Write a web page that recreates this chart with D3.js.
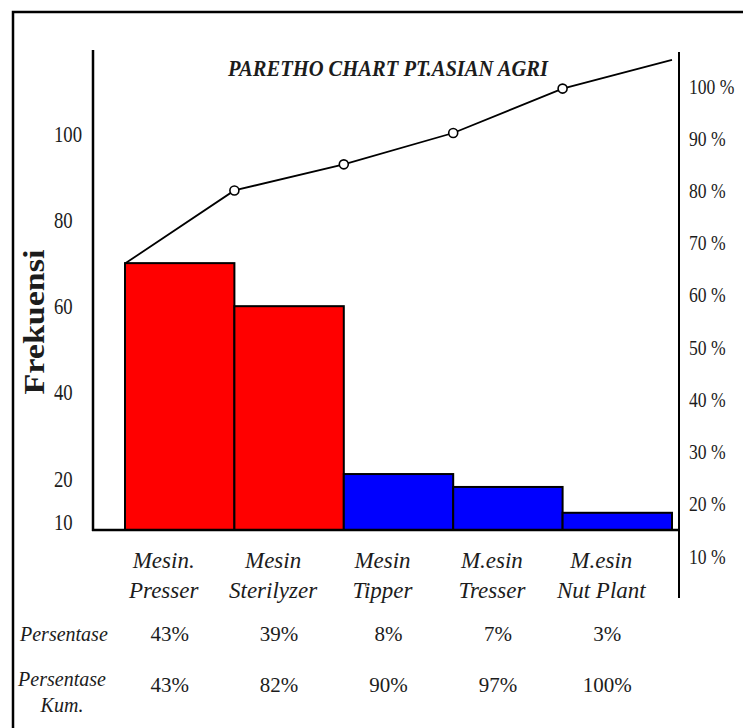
<!DOCTYPE html>
<html>
<head>
<meta charset="utf-8">
<script src="https://cdn.jsdelivr.net/npm/d3@7"></script>
<style>
  html, body { margin: 0; padding: 0; background: #fff; }
  svg { display: block; }
  text { font-family: "Liberation Serif", "Times New Roman", serif; fill: #1c1c1c; }
</style>
</head>
<body>
<svg id="chart" width="743" height="728"></svg>
<script>
// Kerusakan mesin PT. Asian Agri
const mesin = ["Presser", "Sterilyzer", "Tipper", "Tresser", "Nut Plant"];
const labelBaris1 = ["Mesin.", "Mesin", "Mesin", "M.esin", "M.esin"];
const labelBaris2 = ["Presser", "Sterilyzer", "Tipper", "Tresser", "Nut Plant"];
const frekuensi = [70, 60, 21, 18, 12];
const kelompok = ["utama", "utama", "lain", "lain", "lain"];
// garis kumulatif (%) pada tepi kiri batang pertama dan tepi kanan tiap batang
const garisKumulatif = [66, 80, 85, 91, 99.5, 105];
const persentase = ["43%", "39%", "8%", "7%", "3%"];
const persentaseKum = ["43%", "82%", "90%", "97%", "100%"];
const tickFrekuensi = [10, 20, 40, 60, 80, 100];
const tickPersen = [10, 20, 30, 40, 50, 60, 70, 80, 90, 100];

const svg = d3.select("#chart");

const x = d3.scaleBand().domain(mesin).range([125, 672]).padding(0);
const y = d3.scaleLinear().domain([8, 100]).range([530, 134]);
const yPct = d3.scaleLinear().domain([10, 100]).range([556, 86]);
const warna = d3.scaleOrdinal().domain(["utama", "lain"]).range(["#ff0000", "#0000ff"]);

const baseY = y(y.domain()[0]);
const leftX = 93, rightX = 679;

// bingkai luar
svg.append("rect")
  .attr("x", 13).attr("y", 12).attr("width", 900).attr("height", 900)
  .attr("fill", "none").attr("stroke", "#000").attr("stroke-width", 2.5);

// judul
svg.append("text")
  .attr("x", 228).attr("y", 76)
  .attr("textLength", 320).attr("lengthAdjust", "spacingAndGlyphs")
  .style("font-size", "23px").style("font-weight", "bold").style("font-style", "italic")
  .text("PARETHO CHART PT.ASIAN AGRI");

// batang frekuensi
svg.append("g").selectAll("rect")
  .data(mesin)
  .join("rect")
  .attr("x", d => x(d))
  .attr("y", (d, i) => y(frekuensi[i]))
  .attr("width", x.bandwidth())
  .attr("height", (d, i) => baseY - y(frekuensi[i]))
  .attr("fill", (d, i) => warna(kelompok[i]))
  .attr("stroke", "#000").attr("stroke-width", 2);

// sumbu
svg.append("line").attr("x1", leftX).attr("x2", leftX).attr("y1", 50).attr("y2", baseY + 1)
  .attr("stroke", "#000").attr("stroke-width", 2.5);
svg.append("line").attr("x1", leftX - 1).attr("x2", rightX).attr("y1", baseY).attr("y2", baseY)
  .attr("stroke", "#000").attr("stroke-width", 2.5);
svg.append("line").attr("x1", rightX).attr("x2", rightX).attr("y1", 52).attr("y2", 598)
  .attr("stroke", "#000").attr("stroke-width", 2);

// label sumbu kiri
const axisKiri = svg.append("g").attr("transform", "translate(54,0)")
  .call(d3.axisRight(y).tickValues(tickFrekuensi).tickSize(0).tickPadding(0));
axisKiri.select(".domain").remove();
axisKiri.selectAll("text")
  .attr("transform", "scale(0.78,1)")
  .style("font-size", "24px").style("font-family", "Liberation Serif, serif").attr("fill", "#2a2a2a");

// label sumbu kanan
const axisKanan = svg.append("g").attr("transform", "translate(689,0)")
  .call(d3.axisRight(yPct).tickValues(tickPersen).tickSize(0).tickPadding(0).tickFormat(d => d + " %"));
axisKanan.select(".domain").remove();
axisKanan.selectAll("text")
  .attr("transform", "scale(0.8,1)")
  .style("font-size", "22px").style("font-family", "Liberation Serif, serif").attr("fill", "#2a2a2a");

// judul sumbu Y
svg.append("text")
  .attr("transform", "translate(44,322) rotate(-90)")
  .attr("text-anchor", "middle")
  .attr("textLength", 145).attr("lengthAdjust", "spacingAndGlyphs")
  .style("font-size", "30px").style("font-weight", "bold")
  .text("Frekuensi");

// garis kumulatif
const tepi = i => i < mesin.length ? x(mesin[i]) : x(mesin[mesin.length - 1]) + x.bandwidth();
const garis = d3.line().x((d, i) => tepi(i)).y(d => yPct(d));
svg.append("path")
  .datum(garisKumulatif)
  .attr("d", garis)
  .attr("fill", "none").attr("stroke", "#000").attr("stroke-width", 1.8);

svg.append("g").selectAll("circle")
  .data(garisKumulatif.map((v, i) => ({ v, i })).filter(d => d.i > 0 && d.i < garisKumulatif.length - 1))
  .join("circle")
  .attr("cx", d => tepi(d.i))
  .attr("cy", d => yPct(d.v))
  .attr("r", 4.5)
  .attr("fill", "#fff").attr("stroke", "#000").attr("stroke-width", 1.6);

// label kategori
const kat = svg.append("g").selectAll("text")
  .data(mesin)
  .join("text")
  .attr("text-anchor", "middle")
  .style("font-size", "23px").style("font-style", "italic")
  .attr("fill", "#222");
kat.append("tspan")
  .attr("x", d => x(d) + x.bandwidth() / 2 - 16).attr("y", 568)
  .text((d, i) => labelBaris1[i]);
kat.append("tspan")
  .attr("x", d => x(d) + x.bandwidth() / 2 - 16).attr("y", 598)
  .text((d, i) => labelBaris2[i]);

// tabel persentase
svg.append("text").attr("x", 20).attr("y", 641)
  .style("font-size", "20px").style("font-style", "italic").text("Persentase");
const judulKum = svg.append("text").attr("text-anchor", "middle")
  .style("font-size", "20px").style("font-style", "italic");
judulKum.append("tspan").attr("x", 62).attr("y", 686).text("Persentase");
judulKum.append("tspan").attr("x", 62).attr("y", 712).text("Kum.");

svg.append("g").selectAll("text")
  .data(mesin)
  .join("text")
  .attr("x", d => x(d) + x.bandwidth() / 2 - 10)
  .attr("y", 641)
  .attr("text-anchor", "middle")
  .style("font-size", "21px")
  .text((d, i) => persentase[i]);

svg.append("g").selectAll("text")
  .data(mesin)
  .join("text")
  .attr("x", d => x(d) + x.bandwidth() / 2 - 10)
  .attr("y", 692)
  .attr("text-anchor", "middle")
  .style("font-size", "21px")
  .text((d, i) => persentaseKum[i]);
</script>
</body>
</html>
